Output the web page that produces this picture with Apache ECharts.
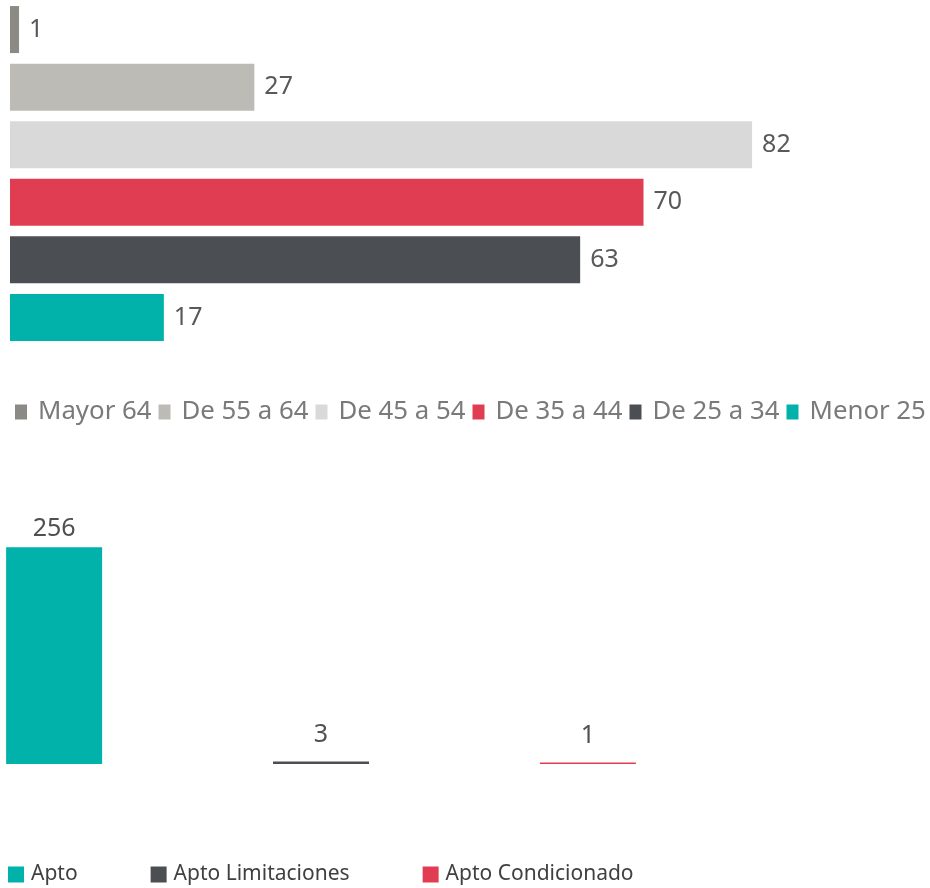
<!DOCTYPE html>
<html>
<head>
<meta charset="utf-8">
<script src="https://cdn.jsdelivr.net/npm/echarts@6/dist/echarts.min.js"></script>
<style>
  html, body { margin: 0; padding: 0; background: #fff; }
  #chart { width: 930px; height: 888px; }
</style>
</head>
<body>
<div id="chart"></div>
<script>
// grupos de edad (barras horizontales)
const ageGroups = ['Mayor 64', 'De 55 a 64', 'De 45 a 54', 'De 35 a 44', 'De 25 a 34', 'Menor 25']
const ageValues = [1, 27, 82, 70, 63, 17]
const ageColors = ['#8c8a85', '#bcbbb6', '#d9d9d9', '#e03d53', '#4b4e53', '#00b2a9']

// aptitud (barras verticales)
const aptGroups = ['Apto', 'Apto Limitaciones', 'Apto Condicionado']
const aptValues = [256, 3, 1]
const aptColors = ['#00b2a9', '#4b4e53', '#e03d53']

const font = 'Noto Sans'

const chart = echarts.init(document.getElementById('chart'))

const ageSeries = ageGroups.map((name, i) => ({
  name,
  type: 'bar',
  xAxisIndex: 0,
  yAxisIndex: 0,
  barWidth: 47,
  barGap: '22.5%',
  data: [ageValues[i]],
  itemStyle: { color: ageColors[i] },
  label: {
    show: true,
    position: 'right',
    distance: 10,
    fontFamily: font,
    fontSize: 25,
    color: '#595959'
  }
}))

const aptSeries = aptGroups.map((name, i) => ({
  name,
  type: 'bar',
  xAxisIndex: 1,
  yAxisIndex: 1,
  barWidth: 96,
  barGap: '178%',
  barMinHeight: 1.5,
  data: [aptValues[i]],
  itemStyle: { color: aptColors[i] },
  label: {
    show: true,
    position: 'top',
    // las barras pequeñas llevan la etiqueta algo más alta
    distance: i === 0 ? 6 : 14,
    fontFamily: font,
    fontSize: 25,
    color: '#505050'
  }
}))

const option = {
  animation: false,
  backgroundColor: '#fff',
  grid: [
    { left: 10, top: 0, width: 905, height: 347 },
    { left: 0, top: 510, width: 642, height: 254 }
  ],
  xAxis: [
    { gridIndex: 0, type: 'value', min: 0, max: 100, show: false },
    { gridIndex: 1, type: 'category', data: [''], show: false }
  ],
  yAxis: [
    { gridIndex: 0, type: 'category', data: [''], inverse: true, show: false },
    { gridIndex: 1, type: 'value', min: 0, max: 300, show: false }
  ],
  legend: [
    {
      data: ageGroups,
      left: 15,
      top: 399,
      padding: 0,
      itemWidth: 12,
      itemHeight: 15,
      itemGap: 7,
      icon: 'rect',
      textStyle: {
        fontFamily: font,
        fontSize: 25.8,
        color: '#7a7a7a',
        padding: [0, 0, 0, 6]
      }
    },
    {
      data: aptGroups,
      left: 8,
      top: 864,
      padding: 0,
      itemWidth: 16,
      itemHeight: 16,
      itemGap: 73,
      icon: 'rect',
      textStyle: {
        fontFamily: font,
        fontSize: 21,
        color: '#404040',
        padding: [0, 0, 0, 2]
      }
    }
  ],
  series: [...ageSeries, ...aptSeries]
}

chart.setOption(option)
</script>
</body>
</html>
